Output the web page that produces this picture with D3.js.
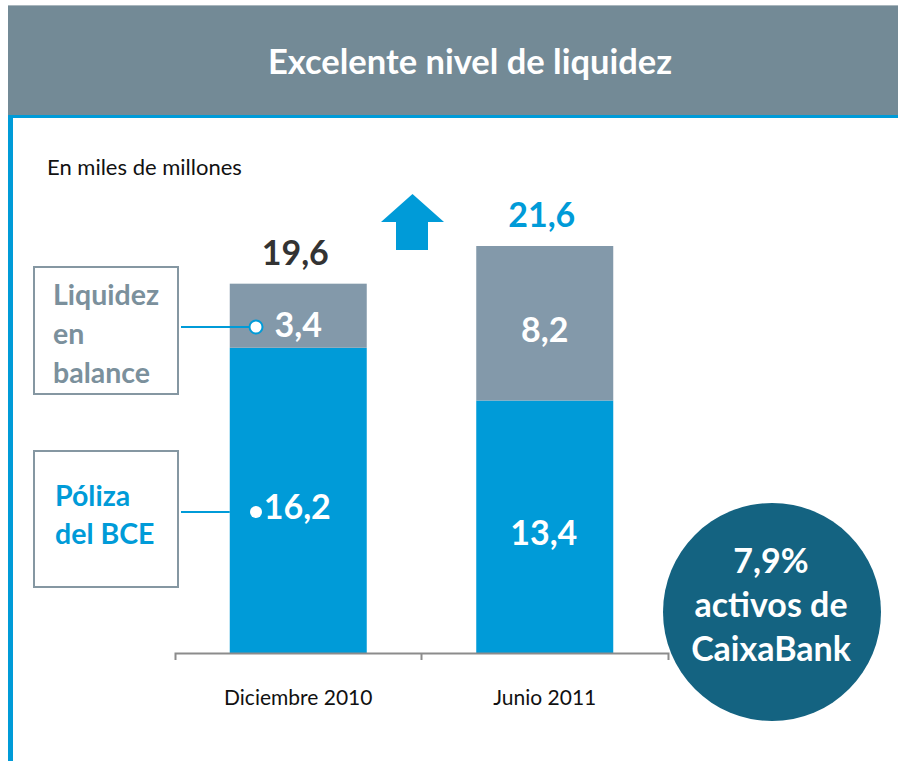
<!DOCTYPE html>
<html>
<head>
<meta charset="utf-8">
<script src="https://cdn.jsdelivr.net/npm/d3@7"></script>
<style>
  body { margin: 0; background: #fff; }
  svg { display: block; font-family: Lato, "Open Sans", sans-serif; }
</style>
</head>
<body>
<svg id="chart" width="898" height="761"></svg>
<script>
// data
var periods = ['Diciembre 2010', 'Junio 2011'];
var poliza = [16.2, 13.4];
var balance = [3.4, 8.2];
var totals = [19.6, 21.6];
var legend_labels = [['Liquidez', 'en', 'balance'], ['Póliza', 'del BCE']];
var circle_lines = ['7,9%', 'activos de', 'CaixaBank'];

var BLUE = '#009bd8';
var GREY = '#8399aa';
var fmt = function(v) { return d3.format('.1f')(v).replace('.', ','); };

var svg = d3.select('#chart');

// frame
svg.append('rect').attr('x', 8).attr('y', 5).attr('width', 890).attr('height', 111).attr('fill', '#738a96');
svg.append('line').attr('x1', 8).attr('x2', 898).attr('y1', 5.5).attr('y2', 5.5).attr('stroke', '#a9b6bd');
svg.append('rect').attr('x', 8).attr('y', 115).attr('width', 890).attr('height', 3).attr('fill', BLUE);
svg.append('rect').attr('x', 8).attr('y', 115).attr('width', 5).attr('height', 646).attr('fill', BLUE);

svg.append('text').attr('x', 470).attr('y', 74).attr('text-anchor', 'middle')
	.attr('fill', '#fff').attr('font-weight', 'bold').attr('font-size', 34.5)
	.text('Excelente nivel de liquidez');

svg.append('text').attr('x', 47).attr('y', 175).attr('font-size', 22).attr('fill', '#111')
	.text('En miles de millones');

// scales
var x = d3.scaleBand().domain(periods).range([175, 668]).paddingInner(0).paddingOuter(0);
var y = d3.scaleLinear().domain([0, 21.6]).range([653, 246]);
var BAR_W = 137;
var cx = function(p) { return x(p) + x.bandwidth() / 2; };

// bars
var stack = periods.map(function(p, i) { return {p: p, a: poliza[i], b: balance[i], t: totals[i]}; });

svg.selectAll('.bar-a').data(stack).enter().append('rect')
	.attr('x', function(d) { return cx(d.p) - BAR_W / 2; })
	.attr('width', BAR_W)
	.attr('y', function(d) { return y(d.a); })
	.attr('height', function(d) { return y(0) - y(d.a); })
	.attr('fill', BLUE);

svg.selectAll('.bar-b').data(stack).enter().append('rect')
	.attr('x', function(d) { return cx(d.p) - BAR_W / 2; })
	.attr('width', BAR_W)
	.attr('y', function(d) { return y(d.t); })
	.attr('height', function(d) { return y(d.a) - y(d.t); })
	.attr('fill', GREY);

// axis
var axis = svg.append('g').attr('transform', 'translate(0,653)')
	.call(d3.axisBottom(x).tickSize(0).tickSizeOuter(7).tickPadding(37));
axis.select('.domain').attr('stroke', '#8c8c8c').attr('stroke-width', 2);
axis.selectAll('text').attr('font-size', 21).attr('fill', '#111').attr('font-family', 'Lato, sans-serif');
axis.append('line').attr('x1', x(periods[1])).attr('x2', x(periods[1]))
	.attr('y1', 0).attr('y2', 7).attr('stroke', '#8c8c8c').attr('stroke-width', 2);

// totals
svg.selectAll('.total').data(stack).enter().append('text')
	.attr('x', function(d) { return cx(d.p) - 3; })
	.attr('y', function(d) { return y(d.t) - 19; })
	.attr('text-anchor', 'middle').attr('font-weight', 'bold').attr('font-size', 34)
	.attr('fill', function(d, i) { return i == 0 ? '#333' : BLUE; })
	.text(function(d) { return fmt(d.t); });

// segment labels
svg.selectAll('.lab-b').data(stack).enter().append('text')
	.attr('x', function(d, i) { return cx(d.p) + (i == 0 ? 0 : 0); })
	.attr('y', function(d, i) { return i == 0 ? 337 : (y(d.t) + y(d.a)) / 2 + 19; })
	.attr('text-anchor', 'middle').attr('font-weight', 'bold').attr('font-size', 34).attr('fill', '#fff')
	.text(function(d) { return fmt(d.b); });

svg.selectAll('.lab-a').data(stack).enter().append('text')
	.attr('x', function(d, i) { return cx(d.p) - 1; })
	.attr('y', function(d, i) { return i == 0 ? 519 : 545; })
	.attr('text-anchor', 'middle').attr('font-weight', 'bold').attr('font-size', 34).attr('fill', '#fff')
	.text(function(d) { return fmt(d.a); });

// legend boxes with connectors
var bar0_left = cx(periods[0]) - BAR_W / 2;
var legends = [
	{lines: legend_labels[0], color: '#7b909c', y0: 267, y1: 394, ly: 327, first: 305, step: 39},
	{lines: legend_labels[1], color: BLUE, y0: 451, y1: 587, ly: 512, first: 506, step: 38}
];
legends.forEach(function(l, i) {
	svg.append('rect').attr('x', 34).attr('y', l.y0).attr('width', 144).attr('height', l.y1 - l.y0)
		.attr('fill', '#fff').attr('stroke', '#8597a2').attr('stroke-width', 2);
	l.lines.forEach(function(t, j) {
		svg.append('text').attr('x', i == 0 ? 53 : 55).attr('y', l.first + j * l.step)
			.attr('font-weight', 'bold').attr('font-size', 28.5).attr('fill', l.color).text(t);
	});
	svg.append('line').attr('x1', 181).attr('x2', i == 0 ? 250 : bar0_left)
		.attr('y1', l.ly).attr('y2', l.ly).attr('stroke', BLUE).attr('stroke-width', 2);
});
svg.append('circle').attr('cx', 256).attr('cy', 327).attr('r', 6.5)
	.attr('fill', '#fff').attr('stroke', BLUE).attr('stroke-width', 2);
svg.append('circle').attr('cx', 256).attr('cy', 512).attr('r', 6).attr('fill', '#fff');

// arrow
var arrow = d3.path();
arrow.moveTo(412.5, 194); arrow.lineTo(444, 222); arrow.lineTo(428, 222); arrow.lineTo(428, 250);
arrow.lineTo(396, 250); arrow.lineTo(396, 222); arrow.lineTo(381, 222); arrow.closePath();
svg.append('path').attr('d', arrow.toString()).attr('fill', BLUE);

// bubble
svg.append('circle').attr('cx', 772).attr('cy', 612).attr('r', 109).attr('fill', '#146381');
svg.selectAll('.bubble').data(circle_lines).enter().append('text')
	.attr('x', 771).attr('y', function(d, i) { return 573 + i * 44; })
	.attr('text-anchor', 'middle').attr('font-weight', 'bold').attr('font-size', 34).attr('fill', '#fff')
	.text(function(d) { return d; });
</script>
</body>
</html>
